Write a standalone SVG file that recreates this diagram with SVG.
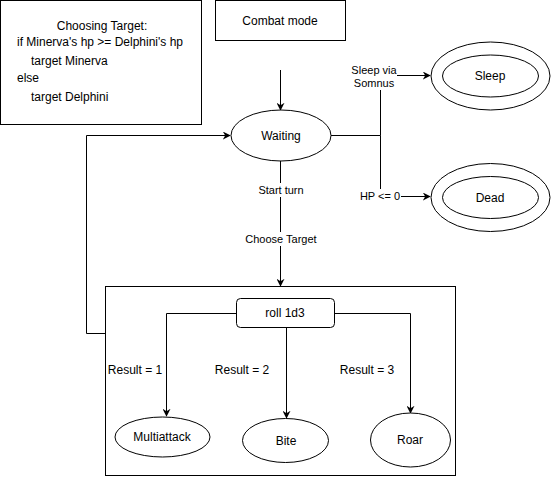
<svg xmlns="http://www.w3.org/2000/svg" width="551" height="477" viewBox="0 0 551 477">
<style>
.s{fill:#fff;stroke:#000;stroke-width:1}
.e{fill:none;stroke:#000;stroke-width:1}
text{font-family:"Liberation Sans",Arial,sans-serif;font-size:12px;fill:#000}
.c{text-anchor:middle}
.l{font-size:11px}
.bg{fill:#fff;stroke:none}
</style>
<defs>
<marker id="a" viewBox="0 0 10 10" refX="9" refY="5" markerWidth="8" markerHeight="8" markerUnits="userSpaceOnUse" orient="auto">
<path d="M0,0 L10,5 L0,10 L3,5 Z" fill="#000"/>
</marker>
</defs>
<rect width="551" height="477" fill="#fff"/>
<g id="choosing-target">
<rect class="s" x="0.5" y="0.5" width="201" height="124"/>
<text class="c" x="102" y="30">Choosing Target:</text>
<text x="17" y="46">if Minerva's hp &gt;= Delphini's hp</text>
<text x="31" y="65">target Minerva</text>
<text x="17" y="82">else</text>
<text x="31" y="101">target Delphini</text>
</g>
<g id="combat-mode">
<rect class="s" x="215.5" y="0.5" width="130" height="40"/>
<text class="c" x="280" y="25">Combat mode</text>
</g>
<g id="turn-box">
<rect class="s" x="105.5" y="286.5" width="350" height="189"/>
</g>
<g id="connectors">
<line class="e" x1="280.5" y1="70" x2="280.5" y2="110" marker-end="url(#a)"/>
<polyline class="e" points="105.5,333.5 86.5,333.5 86.5,135.5 230,135.5" marker-end="url(#a)"/>
<line class="e" x1="280.5" y1="161" x2="280.5" y2="286" marker-end="url(#a)"/>
<polyline class="e" points="331,135.5 380.5,135.5 380.5,75.5 430,75.5" marker-end="url(#a)"/>
<polyline class="e" points="380.5,135.5 380.5,196.5 430,196.5" marker-end="url(#a)"/>
<polyline class="e" points="236,313.5 166.5,313.5 166.5,416" marker-end="url(#a)"/>
<line class="e" x1="286.5" y1="328" x2="286.5" y2="418" marker-end="url(#a)"/>
<polyline class="e" points="335,313.5 410.5,313.5 410.5,413" marker-end="url(#a)"/>
<rect class="bg" x="257" y="183" width="48" height="14"/>
<text class="c l" x="281" y="194">Start turn</text>
<rect class="bg" x="245" y="232" width="72" height="14"/>
<text class="c l" x="281" y="243">Choose Target</text>
<rect class="bg" x="351" y="62" width="46" height="28"/>
<text class="c l" x="374" y="74">Sleep via</text>
<text class="c l" x="374" y="87">Somnus</text>
<rect class="bg" x="358" y="189" width="43" height="14"/>
<text class="c l" x="380" y="200">HP &lt;= 0</text>
<text class="c" x="135" y="374">Result = 1</text>
<text class="c" x="242" y="374">Result = 2</text>
<text class="c" x="367" y="374">Result = 3</text>
</g>
<g id="waiting">
<ellipse class="s" cx="281" cy="135.5" rx="50" ry="25.5"/>
<text class="c" x="281" y="140">Waiting</text>
</g>
<g id="sleep">
<ellipse class="s" cx="490.5" cy="76" rx="59.5" ry="34"/>
<ellipse class="s" cx="490.5" cy="76" rx="48" ry="21"/>
<text class="c" x="490" y="80">Sleep</text>
</g>
<g id="dead">
<ellipse class="s" cx="490.5" cy="197.5" rx="59.5" ry="34"/>
<ellipse class="s" cx="490.5" cy="197.5" rx="48" ry="21"/>
<text class="c" x="490" y="202">Dead</text>
</g>
<g id="roll">
<rect class="s" x="236.5" y="298.5" width="98" height="29" rx="4"/>
<text class="c" x="285" y="317">roll 1d3</text>
</g>
<g id="multiattack">
<ellipse class="s" cx="162.5" cy="437" rx="47.5" ry="20"/>
<text class="c" x="162" y="441">Multiattack</text>
</g>
<g id="bite">
<ellipse class="s" cx="285.5" cy="440.5" rx="43" ry="22"/>
<text class="c" x="286" y="445">Bite</text>
</g>
<g id="roar">
<ellipse class="s" cx="410.5" cy="440" rx="40" ry="27"/>
<text class="c" x="410" y="444">Roar</text>
</g>
</svg>
